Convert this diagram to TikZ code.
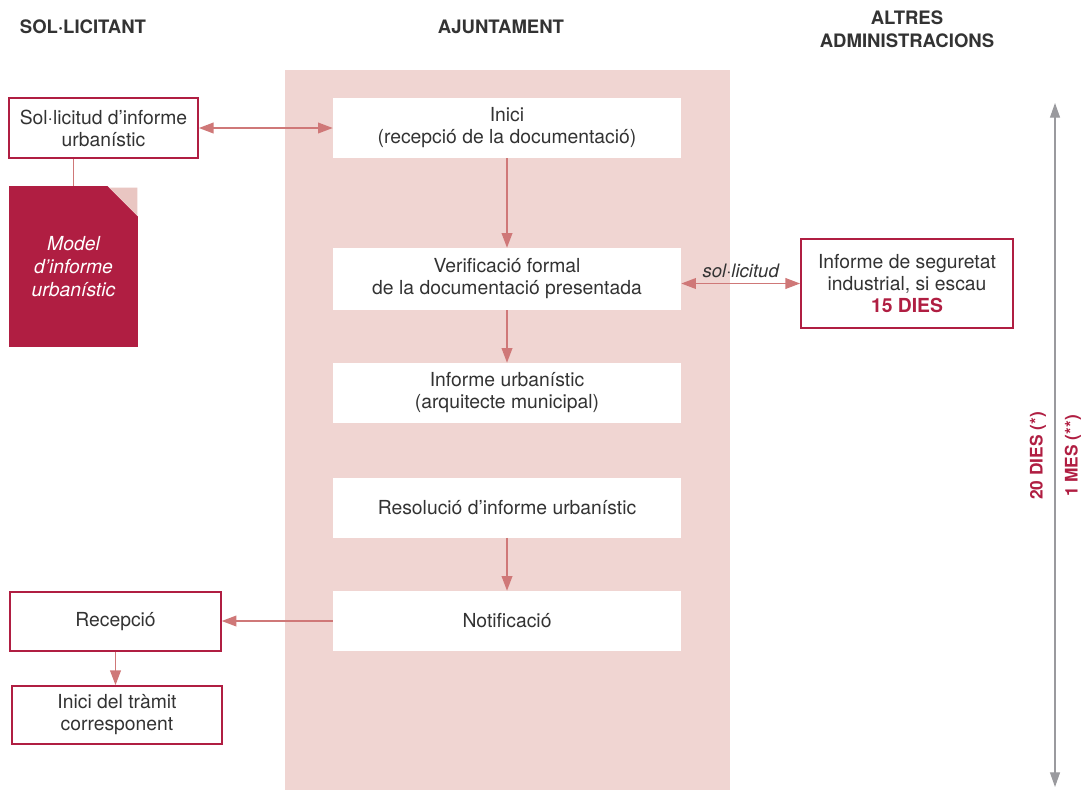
\documentclass[tikz,border=0pt]{standalone}
\usepackage{fontspec}
\setmainfont{TeX Gyre Heros}
\usetikzlibrary{arrows.meta, calc, positioning}
\definecolor{ajPink}{HTML}{F0D5D2}
\definecolor{ajRed}{HTML}{B01E42}
\definecolor{ajLine}{HTML}{CF7878}
\definecolor{ajText}{HTML}{333333}
\definecolor{ajGray}{HTML}{9A9A9E}
\definecolor{ajCorner}{HTML}{E9C6C2}
\tikzset{
    flow/.style={draw=none, fill=white, minimum width=261pt, minimum height=45pt, align=center, inner sep=0pt},
    party/.style={draw=ajRed, line width=1.3pt, fill=white, align=center, inner sep=0pt},
    head/.style={font=\fontsize{13.9}{17.25}\selectfont\bfseries, align=center},
    link/.style={draw=ajLine, line width=1.2pt, -{Triangle[length=11pt,width=8pt]}},
    linkboth/.style={link, {Triangle[length=11pt,width=8pt]}-{Triangle[length=11pt,width=8pt]}},
    term/.style={font=\fontsize{13}{15}\selectfont\bfseries, text=ajRed, rotate=90}
}
\begin{document}
\begin{tikzpicture}[x=0.75pt, y=-0.75pt, every node/.style={text=ajText, font=\fontsize{14.5}{16.5}\selectfont}]
    \useasboundingbox (0,0) rectangle (1088,790);
    \fill[ajPink] (285,70) rectangle (730,790);
    % column heads
    \node[head] (hSol) at (83,27) {SOL·LICITANT};
    \node[head] (hAj) at (501,27) {AJUNTAMENT};
    \node[head] (hAlt) at (907,29) {ALTRES\\ADMINISTRACIONS};
    % ajuntament
    \node[flow] (inici) at (507,128) {Inici\\(recepció de la documentació)};
    \node[flow, minimum height=46.5pt] (verif) at (507,279) {Verificació formal\\de la documentació presentada};
    \node[flow] (inform) at (507,393) {Informe urbanístic\\(arquitecte municipal)};
    \node[flow] (resol) at (507,507.5) {Resolució d’informe urbanístic};
    \node[flow] (notif) at (507,621) {Notificació};
    % sol.licitant
    \node[party, minimum width=141.75pt, minimum height=45pt] (sollic) at (103.5,128) {Sol·licitud d’informe\\urbanístic};
    \node[party, minimum width=158pt, minimum height=44pt] (recep) at (115.5,621.5) {Recepció};
    \node[party, minimum width=157.5pt, minimum height=43.5pt] (tramit) at (117,715) {Inici del tràmit\\corresponent};
    \node[fill=ajRed, minimum width=96.75pt, minimum height=120.75pt, inner sep=0pt, align=center,
          text=white, font=\fontsize{14.5}{17}\selectfont\itshape] (model) at (73.5,266.5) {Model\\d’informe\\urbanístic};
    \fill[white] ($(model.north east)+(-31,0)$) -- (model.north east) -- ($(model.north east)+(0,31)$) -- cycle;
    \fill[ajCorner] ($(model.north east)+(-29,2)$) -- ($(model.north east)+(-1,2)$) -- ($(model.north east)+(-1,30)$) -- cycle;
    % altres administracions
    \node[party, minimum width=159pt, minimum height=66.75pt] (segur) at (907,283.5)
        {Informe de seguretat\\industrial, si escau\\\textbf{\textcolor{ajRed}{15 DIES}}};
    % connectors
    \draw[ajLine, line width=1.2pt] (model.north |- sollic.south) -- (model.north);
    \draw[linkboth] (sollic) -- (inici);
    \draw[link] (inici) -- (verif);
    \draw[link] (verif) -- (inform);
    \draw[link] (resol) -- (notif);
    \draw[link] (notif.west) -- (notif.west -| recep.east);
    \draw[link] (recep.south) -- (recep.south |- tramit.north);
    \draw[linkboth] (verif.east |- segur.west) -- (segur.west)
        node[midway, above, font=\fontsize{13.9}{16}\selectfont\itshape] {sol·licitud};
    % terminis
    \coordinate (tTop) at (1055,103);
    \coordinate (tBot) at (1055,787);
    \draw[ajGray, line width=0.9pt, {Triangle[length=11pt,width=7.5pt]}-{Triangle[length=11pt,width=7.5pt]}] (tTop) -- (tBot);
    \node[term] (d20) at (1038,456) {20 DIES (*)};
    \node[term] (m1) at (1073,456) {1 MES (**)};
\end{tikzpicture}
\end{document}
